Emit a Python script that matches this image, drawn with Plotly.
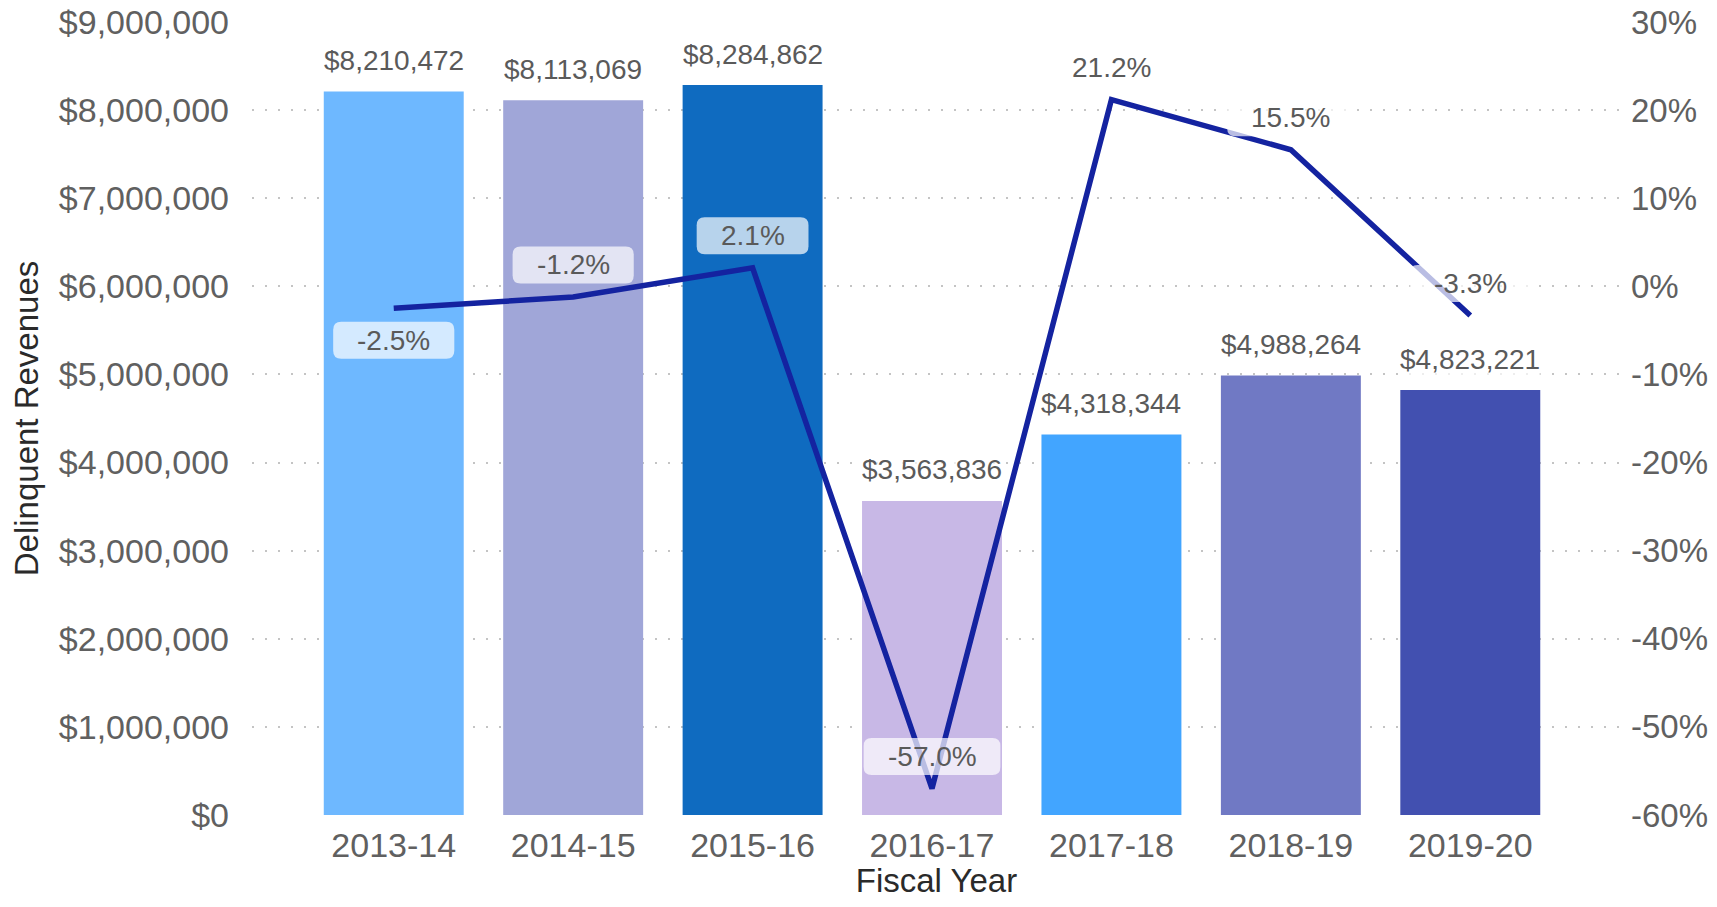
import plotly.graph_objects as go

years = ["2013-14", "2014-15", "2015-16", "2016-17", "2017-18", "2018-19", "2019-20"]
revenues = [8210472, 8113069, 8284862, 3563836, 4318344, 4988264, 4823221]
pct_change = [-2.5, -1.2, 2.1, -57.0, 21.2, 15.5, -3.3]
bar_colors = ["#6EB8FF", "#A0A6D8", "#0F6BC0", "#C8B8E6", "#42A5FF", "#7079C4", "#4250B0"]
label_below = [True, False, False, False, False, False, False]
pct_tick_vals = [-0.6, -0.5, -0.4, -0.3, -0.2, -0.1, 0.0, 0.1, 0.2, 0.3]
pct_tick_text = ["-60%", "-50%", "-40%", "-30%", "-20%", "-10%", "0%", "10%", "20%", "30%"]

FONT = "Arial, 'Liberation Sans', sans-serif"
TXT = "#5a5a5a"
LINE = "#1423A0"

fig = go.Figure()
fig.add_trace(go.Bar(x=years, y=revenues, marker=dict(color=bar_colors, line=dict(width=0)),
                     hoverinfo="skip"))
fig.add_trace(go.Scatter(x=years, y=[p / 100 for p in pct_change], yaxis="y2", mode="lines",
                         line=dict(color=LINE, width=5.5), hoverinfo="skip"))

# bar value labels
for x, v in zip(years, revenues):
    fig.add_annotation(x=x, y=v, xref="x", yref="y", text=f"${v:,}", showarrow=False,
                       yanchor="middle", yshift=31, font=dict(size=28, color=TXT, family=FONT),
                       bgcolor="rgba(255,255,255,0.7)", borderpad=0)

# percent labels with rounded boxes
W = {"-": 0.333, ".": 0.278, "%": 0.889}
fs = 28
for x, p, below in zip(years, pct_change, label_below):
    t = f"{p:.1f}%"
    tw = sum(W.get(c, 0.556) for c in t) * fs
    w = tw + 48
    h = 37
    r = 8
    cy = -32 if below else 32
    x0, x1 = -w / 2, w / 2
    y0, y1 = cy - h / 2, cy + h / 2
    path = (f"M {x0 + r},{y0} L {x1 - r},{y0} Q {x1},{y0} {x1},{y0 + r} "
            f"L {x1},{y1 - r} Q {x1},{y1} {x1 - r},{y1} L {x0 + r},{y1} "
            f"Q {x0},{y1} {x0},{y1 - r} L {x0},{y0 + r} Q {x0},{y0} {x0 + r},{y0} Z")
    fig.add_shape(type="path", xref="x", yref="y2", xsizemode="pixel", ysizemode="pixel",
                  xanchor=x, yanchor=p / 100, path=path,
                  fillcolor="rgba(255,255,255,0.7)", line=dict(width=0), layer="above")
    fig.add_annotation(x=x, y=p / 100, xref="x", yref="y2", text=t, showarrow=False,
                       yanchor="middle", yshift=cy, font=dict(size=fs, color=TXT, family=FONT))

fig.update_layout(
    width=1701, height=891,
    margin=dict(l=244, r=88, t=14, b=84),
    plot_bgcolor="white", paper_bgcolor="white",
    showlegend=False, bargap=0.22,
    font=dict(family=FONT, color="#606060", size=34),
    xaxis=dict(type="category", range=[-0.79, 6.84], showgrid=False, zeroline=False,
               showline=False, ticks="", ticklabelstandoff=7, automargin=False,
               title=dict(text="Fiscal Year", font=dict(size=33, color="#2a2a2a"), standoff=10)),
    yaxis=dict(range=[0, 9000000], dtick=1000000, tickformat="$,.0f", showgrid=True,
               gridcolor="#c4c4c4", gridwidth=2, griddash="2px,11px", zeroline=False,
               ticks="", ticklabelstandoff=22, showline=False, automargin=False,
               ticklabeloverflow="allow",
               title=dict(text="Delinquent Revenues", font=dict(size=33, color="#2a2a2a"), standoff=13)),
    yaxis2=dict(range=[-0.6, 0.3], tickmode="array", tickvals=pct_tick_vals, ticktext=pct_tick_text,
                overlaying="y", side="right", automargin=False, ticklabeloverflow="allow",
                tickfont=dict(size=33),
                showgrid=False, zeroline=False, ticks="", ticklabelstandoff=9, showline=False),
)

fig.write_html("out.html")
